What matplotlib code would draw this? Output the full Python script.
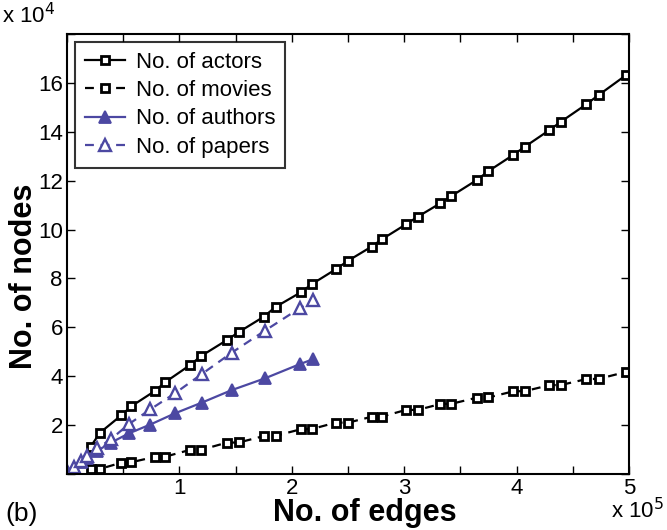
import matplotlib
matplotlib.use("Agg")
import matplotlib.pyplot as plt
import numpy as np

plt.rcParams['font.family'] = ['Liberation Sans', 'DejaVu Sans']

# IMDB data (edges in 1e5, nodes in 1e4)
imdb_edges = [0.21, 0.294, 0.483, 0.572, 0.78, 0.875, 1.09, 1.195, 1.42, 1.53,
              1.75, 1.855, 2.08, 2.18, 2.39, 2.50, 2.71, 2.805, 3.015, 3.12,
              3.32, 3.42, 3.645, 3.75, 3.97, 4.075, 4.29, 4.395, 4.62, 4.73, 4.97]
actors = [1.12, 1.69, 2.40, 2.77, 3.39, 3.76, 4.44, 4.83, 5.47, 5.81,
          6.43, 6.83, 7.43, 7.77, 8.37, 8.72, 9.30, 9.61, 10.21, 10.52,
          11.07, 11.37, 12.02, 12.39, 13.05, 13.39, 14.06, 14.41, 15.12, 15.50, 16.30]
movies = [0.20, 0.21, 0.46, 0.48, 0.70, 0.71, 0.98, 0.99, 1.28, 1.29,
          1.55, 1.56, 1.83, 1.84, 2.10, 2.10, 2.34, 2.35, 2.62, 2.62,
          2.86, 2.87, 3.12, 3.13, 3.38, 3.39, 3.63, 3.64, 3.88, 3.89, 4.17]

# DBLP data
dblp_edges = [0.01, 0.06, 0.12, 0.18, 0.27, 0.39, 0.55, 0.74, 0.96, 1.20,
              1.465, 1.76, 2.07, 2.186]
authors = [0.05, 0.26, 0.48, 0.66, 0.95, 1.28, 1.66, 2.02, 2.48, 2.92,
           3.43, 3.91, 4.49, 4.69]
papers = [0.05, 0.28, 0.52, 0.72, 1.05, 1.42, 2.04, 2.64, 3.30, 4.09,
          4.96, 5.86, 6.78, 7.12]

blue = '#4c48a2'

fig = plt.figure(figsize=(6.67, 5.3), dpi=100)
ax = fig.add_axes([0.1005, 0.1057, 0.8425, 0.8303])

ax.plot(np.array(imdb_edges) * 1e5, np.array(actors) * 1e4, '-s', color='black',
        lw=1.6, ms=5.2, mfc='white', mew=2, label='No. of actors')
ax.plot(np.array(imdb_edges) * 1e5, np.array(movies) * 1e4, '--s', color='black',
        lw=1.6, ms=5.2, mfc='white', mew=2, dashes=(4, 3), label='No. of movies')
ax.plot(np.array(dblp_edges) * 1e5, np.array(authors) * 1e4, '-^', color=blue,
        lw=1.6, ms=9, mfc=blue, mew=1.3, label='No. of authors')
ax.plot(np.array(dblp_edges) * 1e5, np.array(papers) * 1e4, '--^', color=blue,
        lw=1.6, ms=9, mfc='white', mew=1.7, dashes=(4, 3), label='No. of papers')

ax.set_xlim(0, 5e5)
ax.set_ylim(0, 18e4)

xt = np.arange(0, 5.01, 0.5)
ax.set_xticks(xt * 1e5)
ax.set_xticklabels(['' if (v == 0 or v % 1) else '%d' % v for v in xt])
yt = np.arange(0, 18.1, 2)
ax.set_yticks(yt * 1e4)
ax.set_yticklabels(['' if v in (0, 18) else '%d' % v for v in yt])

ax.tick_params(direction='in', top=True, right=True, length=6, width=1,
               labelsize=16, pad=3)
for s in ax.spines.values():
    s.set_linewidth(1.5)

ax.set_xlabel('No. of edges', fontsize=22, fontweight='bold', labelpad=-2)
ax.xaxis.set_label_coords(0.53, -0.055)
ax.set_ylabel('No. of nodes', fontsize=22, fontweight='bold')
ax.yaxis.set_label_coords(-0.05, 0.45)

fig.text(0.003, 0.947, r'x 10$^4$', fontsize=16, ha='left', va='bottom')
fig.text(0.996, 0.012, r'x 10$^5$', fontsize=16, ha='right', va='bottom')
fig.text(0.008, 0.008, '(b)', fontsize=19, ha='left', va='bottom')

leg = ax.legend(loc='upper left', fontsize=16, frameon=True, fancybox=False,
                edgecolor='black', borderpad=0.45, labelspacing=0.33,
                handlelength=1.8, handletextpad=0.5, borderaxespad=0.35)
leg.get_frame().set_linewidth(1.5)

fig.savefig('out.png', dpi=100)
